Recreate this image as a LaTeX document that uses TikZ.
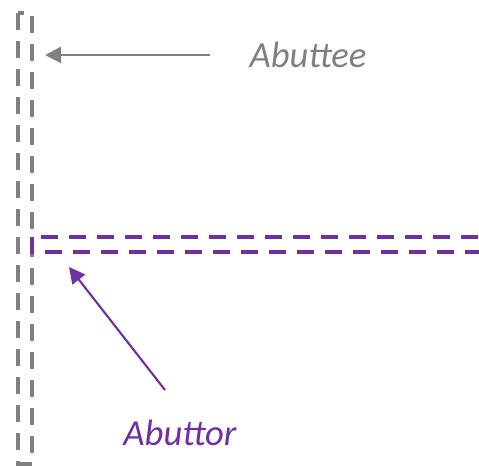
\documentclass[tikz,border=0pt]{standalone}
\usepackage{fontspec}
\setmainfont{Carlito}
\usetikzlibrary{arrows.meta,positioning}
\definecolor{abutteegray}{RGB}{128,128,128}
\definecolor{abuttorpurple}{RGB}{112,48,160}

\begin{document}
\begin{tikzpicture}[x=0.75pt, y=-0.75pt,
  dashrect/.style={line width=2.4pt, dash pattern=on 12.75pt off 8.25pt},
  arr/.style={-{Triangle[length=12pt, width=12pt]}, line width=1.6pt},
  tag/.style={font=\fontsize{27.5}{32}\itshape\selectfont, inner sep=0pt, anchor=base}
]
\useasboundingbox (0,0) rectangle (479,466);

% abuttee strip and abuttor strip
\draw[dashrect, abutteegray] (18,13) rectangle (32,464);
\draw[dashrect, abuttorpurple] (32,237) rectangle (492,252);

\coordinate (teetip) at (45,55);
\coordinate (teetail) at (210,55);
\coordinate (tortip) at (69,267);
\coordinate (tortail) at (165,390);

\node[tag, text=abutteegray] (abuttee) at (308,68) {Abuttee};
\node[tag, text=abuttorpurple] (abuttor) at (180,446) {Abuttor};

\draw[arr, abutteegray] (teetail) -- (teetip);
\draw[arr, abuttorpurple] (tortail) -- (tortip);
\end{tikzpicture}
\end{document}
